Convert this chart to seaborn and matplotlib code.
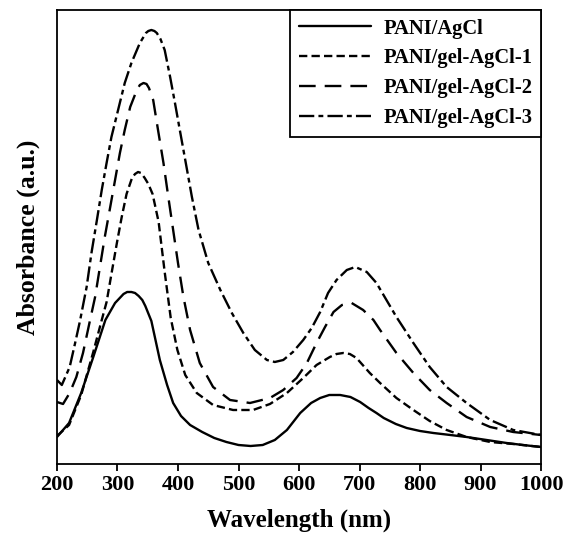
import pandas as pd
import seaborn as sns
import matplotlib.pyplot as plt

# Data (wavelength in nm, absorbance in a.u.)
wl_agcl = [200, 220, 240, 260, 280, 296, 310, 316, 323, 329, 335, 341, 346, 356, 370, 382,
           392, 405, 420, 440, 460, 480, 500, 520, 540, 560, 580, 602, 620, 635, 650, 668,
           685, 701, 715, 728, 740, 760, 778, 800, 822, 850, 877, 910, 943, 970, 1000]
abs_agcl = [0.27, 0.41, 0.71, 1.07, 1.44, 1.61, 1.70, 1.72, 1.72, 1.71, 1.68, 1.64, 1.58,
            1.43, 1.04, 0.79, 0.61, 0.48, 0.39, 0.32, 0.26, 0.22, 0.19, 0.18, 0.19, 0.24,
            0.34, 0.51, 0.61, 0.66, 0.69, 0.69, 0.67, 0.62, 0.56, 0.51, 0.46, 0.40, 0.36,
            0.33, 0.31, 0.29, 0.27, 0.24, 0.21, 0.19, 0.17]

wl_gel1 = [200, 220, 240, 260, 274, 282, 290, 299, 307, 315, 324, 329, 334, 339, 345, 351,
           358, 368, 378, 388, 399, 412, 431, 458, 491, 524, 552, 580, 607, 629, 651, 662,
           673, 684, 695, 717, 734, 761, 789, 816, 844, 877, 916, 954, 1000]
abs_gel1 = [0.28, 0.39, 0.69, 1.12, 1.44, 1.62, 1.90, 2.21, 2.47, 2.70, 2.86, 2.90, 2.92,
            2.91, 2.86, 2.80, 2.70, 2.42, 1.92, 1.46, 1.14, 0.89, 0.71, 0.59, 0.54, 0.54,
            0.60, 0.71, 0.86, 0.99, 1.07, 1.10, 1.11, 1.10, 1.06, 0.91, 0.81, 0.66, 0.54,
            0.43, 0.34, 0.27, 0.22, 0.20, 0.17]

wl_gel2 = [200, 210, 221, 232, 243, 254, 263, 271, 279, 288, 296, 304, 312, 321, 332, 337,
           343, 348, 352, 359, 367, 376, 384, 392, 400, 409, 420, 436, 458, 486, 519, 552,
           574, 596, 613, 629, 643, 657, 671, 687, 706, 723, 734, 761, 789, 816, 844, 877,
           916, 954, 1000]
abs_gel2 = [0.62, 0.60, 0.71, 0.87, 1.11, 1.42, 1.67, 1.97, 2.27, 2.57, 2.84, 3.11, 3.34,
            3.57, 3.74, 3.79, 3.81, 3.80, 3.76, 3.64, 3.34, 3.01, 2.67, 2.34, 2.01, 1.67,
            1.34, 1.01, 0.77, 0.64, 0.61, 0.66, 0.74, 0.86, 1.01, 1.21, 1.37, 1.52, 1.59,
            1.61, 1.54, 1.44, 1.34, 1.11, 0.91, 0.74, 0.61, 0.47, 0.37, 0.32, 0.29]

wl_gel3 = [200, 208, 221, 230, 238, 249, 257, 266, 274, 282, 290, 301, 312, 323, 337, 347,
           351, 356, 361, 365, 371, 378, 387, 395, 403, 412, 423, 434, 450, 470, 489, 508,
           527, 547, 560, 574, 590, 607, 621, 635, 648, 662, 679, 693, 712, 728, 761, 789,
           816, 844, 877, 916, 954, 1000]
abs_gel3 = [0.84, 0.79, 0.97, 1.21, 1.43, 1.77, 2.11, 2.44, 2.74, 3.01, 3.27, 3.54, 3.81,
            4.01, 4.21, 4.31, 4.33, 4.34, 4.33, 4.31, 4.25, 4.14, 3.87, 3.61, 3.34, 3.04,
            2.67, 2.34, 2.01, 1.74, 1.51, 1.31, 1.14, 1.04, 1.02, 1.04, 1.12, 1.24, 1.36,
            1.52, 1.71, 1.84, 1.94, 1.97, 1.92, 1.81, 1.47, 1.21, 0.97, 0.77, 0.61, 0.44,
            0.34, 0.29]

labels = ["PANI/AgCl", "PANI/gel-AgCl-1", "PANI/gel-AgCl-2", "PANI/gel-AgCl-3"]
xticks = [200, 300, 400, 500, 600, 700, 800, 900, 1000]

series = [(wl_agcl, abs_agcl), (wl_gel1, abs_gel1), (wl_gel2, abs_gel2), (wl_gel3, abs_gel3)]
df = pd.concat([pd.DataFrame({"wl": w, "A": a, "sample": lab})
                for (w, a), lab in zip(series, labels)], ignore_index=True)

sns.set_theme(style="ticks")
plt.rcParams["font.family"] = ["Liberation Serif", "DejaVu Serif"]
plt.rcParams["font.weight"] = "bold"
plt.rcParams["lines.scale_dashes"] = False
plt.rcParams["text.color"] = "black"
plt.rcParams["axes.labelcolor"] = "black"
plt.rcParams["xtick.color"] = "black"
plt.rcParams["ytick.color"] = "black"

line_styles = {
    "PANI/AgCl": "-",
    "PANI/gel-AgCl-1": (0, (6, 3)),
    "PANI/gel-AgCl-2": (0, (12, 6.5)),
    "PANI/gel-AgCl-3": (0, (11, 3, 3.5, 3)),
}

fig = plt.figure(figsize=(5.63, 5.43), dpi=100)
ax = fig.add_axes([0.1012, 0.1455, 0.8598, 0.8361])

for lab in labels:
    sub = df[df["sample"] == lab]
    sns.lineplot(data=sub, x="wl", y="A", ax=ax, color="black", lw=1.7,
                 linestyle=line_styles[lab], label=lab, sort=True, estimator=None)

ax.set_xlim(200, 1000)
ax.set_ylim(0, 4.54)
ax.set_xticks(xticks)
ax.set_xticklabels([str(t) for t in xticks], fontsize=16, fontweight="bold")
ax.set_yticks([])
ax.tick_params(axis="x", direction="out", length=5, width=1.3, pad=3, colors="black")
for sp in ax.spines.values():
    sp.set_color("black")
    sp.set_linewidth(1.3)

ax.set_xlabel("Wavelength (nm)", fontsize=18, fontweight="bold", labelpad=10, color="black")
ax.set_ylabel("Absorbance (a.u.)", fontsize=18.5, fontweight="bold", labelpad=12, color="black")

leg = ax.legend(loc="upper right", borderaxespad=0, fancybox=False, framealpha=1,
                edgecolor="black", handlelength=3.5, handletextpad=0.6,
                labelspacing=0.48, borderpad=0.42,
                prop={"family": "Liberation Serif", "weight": "bold", "size": 14.8})
leg.get_frame().set_linewidth(1.3)
for t in leg.get_texts():
    t.set_color("black")

fig.savefig("out.png", dpi=100)
